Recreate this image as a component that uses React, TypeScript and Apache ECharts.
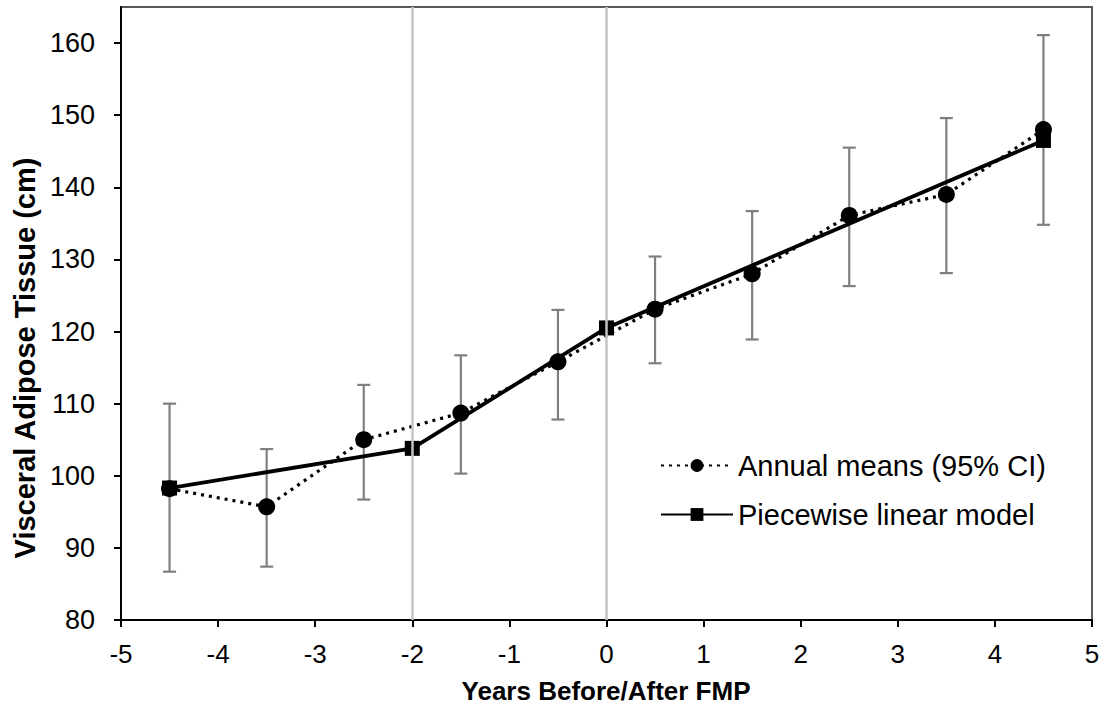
import React, { useEffect, useRef } from "react";
import * as echarts from "echarts";

const years = [-4.5, -3.5, -2.5, -1.5, -0.5, 0.5, 1.5, 2.5, 3.5, 4.5];
const means = [98.2, 95.7, 105.0, 108.7, 115.8, 123.1, 128.0, 136.1, 139.0, 148.0];
const ciLow = [86.7, 87.4, 96.7, 100.3, 107.8, 115.6, 118.9, 126.3, 128.1, 134.8];
const ciHigh = [110.0, 103.7, 112.6, 116.7, 123.0, 130.4, 136.7, 145.5, 149.6, 161.1];
const modelX = [-4.5, -2, 0, 4.5];
const modelY = [98.3, 103.8, 120.5, 146.5];
const refLines = [-2, 0];
const yTicks = [80, 90, 100, 110, 120, 130, 140, 150, 160];

const FONT = "'Liberation Sans', Arial, sans-serif";

export default function App() {
  const ref = useRef<HTMLDivElement>(null);
  useEffect(() => {
    if (!ref.current) return;
    const chart = echarts.init(ref.current, null, { renderer: "svg" });
    const meanData = years.map((x, i) => [x, means[i]]);
    const ciData = years.map((x, i) => [x, ciLow[i], ciHigh[i]]);
    const modelData = modelX.map((x, i) => [x, modelY[i]]);
    chart.setOption({
      animation: false,
      backgroundColor: "#fff",
      textStyle: { fontFamily: FONT, color: "#000" },
      grid: {
        left: 121,
        right: 19,
        top: 7,
        bottom: 95,
        show: true,
        borderColor: "#595959",
        borderWidth: 2,
        backgroundColor: "transparent",
      },
      graphic: [
        {
          type: "text",
          x: 25,
          y: 358,
          rotation: Math.PI / 2,
          style: {
            text: "Visceral Adipose Tissue (cm)",
            fontFamily: FONT,
            fontSize: 29,
            fontWeight: "bold",
            fill: "#000",
            align: "center",
            verticalAlign: "middle",
          },
        },
        {
          type: "text",
          x: 606,
          y: 691,
          style: {
            text: "Years Before/After FMP",
            fontFamily: FONT,
            fontSize: 26,
            fontWeight: "bold",
            fill: "#000",
            align: "center",
            verticalAlign: "middle",
          },
        },
      ],
      legend: {
        data: ["Annual means (95% CI)", "Piecewise linear model"],
        orient: "vertical",
        left: 655,
        top: 446,
        itemWidth: 72,
        itemHeight: 16,
        itemGap: 20,
        textStyle: { fontFamily: FONT, fontSize: 29, color: "#000" },
      },
      xAxis: {
        type: "value",
        min: -5,
        max: 5,
        interval: 1,
        axisLine: { show: true, onZero: false, lineStyle: { color: "#000", width: 2 } },
        axisTick: { show: true, length: 7, lineStyle: { color: "#000", width: 2 } },
        axisLabel: { fontFamily: FONT, fontSize: 26, color: "#000", margin: 21 },
        splitLine: { show: false },
      },
      yAxis: {
        type: "value",
        min: 80,
        max: 165,
        interval: 10,
        axisLine: { show: true, onZero: false, lineStyle: { color: "#000", width: 2 } },
        axisTick: { show: true, length: 7, customValues: yTicks, lineStyle: { color: "#000", width: 2 } },
        axisLabel: { fontFamily: FONT, fontSize: 27, color: "#000", margin: 26, customValues: yTicks },
        splitLine: { show: false },
      },
      series: [
        {
          name: "ref",
          type: "line",
          data: [],
          z: 0,
          silent: true,
          markLine: {
            silent: true,
            symbol: "none",
            label: { show: false },
            lineStyle: { color: "#c4c4c4", width: 2.5, type: "solid" },
            data: refLines.map((v) => ({ xAxis: v })),
          },
        },
        {
          name: "ci",
          type: "custom",
          z: 1,
          silent: true,
          data: ciData,
          renderItem: (params: any, api: any) => {
            const x = api.value(0);
            const p1 = api.coord([x, api.value(2)]);
            const p2 = api.coord([x, api.value(1)]);
            const hw = 6.5;
            const st = { stroke: "#7f7f7f", lineWidth: 2.2 };
            return {
              type: "group",
              children: [
                { type: "line", shape: { x1: p1[0], y1: p1[1], x2: p2[0], y2: p2[1] }, style: st },
                { type: "line", shape: { x1: p1[0] - hw, y1: p1[1], x2: p1[0] + hw, y2: p1[1] }, style: st },
                { type: "line", shape: { x1: p2[0] - hw, y1: p2[1], x2: p2[0] + hw, y2: p2[1] }, style: st },
              ],
            };
          },
        },
        {
          name: "Annual means (95% CI)",
          type: "line",
          z: 3,
          data: meanData,
          symbol: "circle",
          symbolSize: 17,
          itemStyle: { color: "#000" },
          lineStyle: { color: "#000", width: 3.2, type: [3, 5] },
        },
        {
          name: "Piecewise linear model",
          type: "line",
          z: 4,
          data: modelData,
          symbol: "rect",
          symbolSize: 15,
          itemStyle: { color: "#000" },
          lineStyle: { color: "#000", width: 3.8, type: "solid" },
        },
      ],
    });
    return () => chart.dispose();
  }, []);
  return (
    <div
      ref={ref}
      style={{ position: "fixed", left: 0, top: 0, width: 1111, height: 715, background: "#fff" }}
    />
  );
}
